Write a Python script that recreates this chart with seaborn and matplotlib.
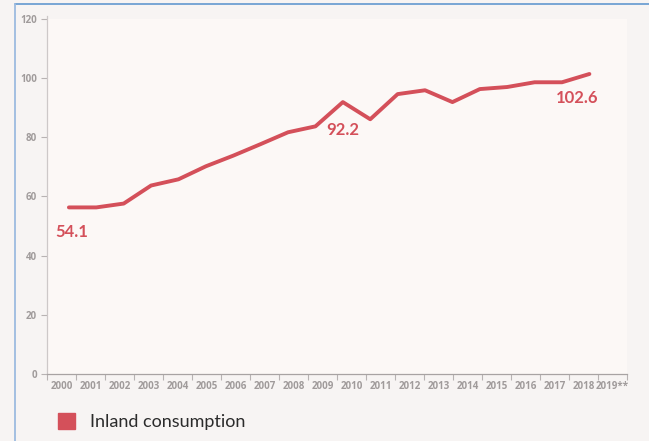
"""
Inland consumption 2000-2019 — line chart recreation
"""

import matplotlib
matplotlib.use("Agg")

import matplotlib.pyplot as plt
import numpy as np
import pandas as pd
import seaborn as sns
from matplotlib.lines import Line2D
from matplotlib.patches import Patch

# ----------------------------
# Data
# ----------------------------
years = ["2000", "2001", "2002", "2003", "2004", "2005", "2006", "2007",
         "2008", "2009", "2010", "2011", "2012", "2013", "2014", "2015",
         "2016", "2017", "2018", "2019**"]

consumption = [56.3, 56.3, 57.6, 63.7, 65.8, 70.2, 73.8, 77.7, 81.7, 83.7,
               91.9, 86.1, 94.6, 95.9, 91.9, 96.3, 97.0, 98.6, 98.6, 101.4]

# labelled points: (index into years, text shown)
label_idx = [0, 10, 19]
label_text = ["54.1", "92.2", "102.6"]

series_name = "Inland consumption"

RED = "#d4505a"
GREY = "#a09b9b"

df = pd.DataFrame({"idx": np.arange(len(years)), "value": consumption})

# ----------------------------
# Figure
# ----------------------------
sns.set_theme(style="white")
plt.rcParams["font.family"] = ["Lato", "DejaVu Sans"]

fig = plt.figure(figsize=(6.49, 4.41), dpi=100, facecolor="#f7f4f3")
ax = fig.add_axes([0.0724, 0.152, 0.8936, 0.805])
ax.set_facecolor("#fcf8f6")

sns.lineplot(data=df, x="idx", y="value", ax=ax, color=RED,
             linewidth=2.8, legend=False)

# the line does not sit on the category centres in the original
x0, x1 = -0.80, 20.37
ax.set_xlim(x0, x1)
ax.set_ylim(0, 120)

# ----------------------------
# Axes styling
# ----------------------------
edges = np.linspace(x0, x1, len(years) + 1)
centers = (edges[:-1] + edges[1:]) / 2

ax.set_xticks(edges)
ax.set_xticklabels([])
ax.set_xticks(centers, minor=True)
ax.set_xticklabels(years, minor=True, fontsize=7, color=GREY,
                   fontweight="bold", family=["Open Sans", "DejaVu Sans"])
ax.tick_params(axis="x", which="major", length=4, width=0.8,
               color="#b8b3b3", direction="out", bottom=True)
ax.tick_params(axis="x", which="minor", length=0, pad=5)

ax.set_yticks([0, 20, 40, 60, 80, 100, 120])
ax.set_yticklabels(["0", "20", "40", "60", "80", "100", "120"],
                   fontsize=7, color=GREY, fontweight="bold",
                   family=["Open Sans", "DejaVu Sans"])
ax.tick_params(axis="y", length=4, width=0.8, color="#b8b3b3",
               direction="out", left=True, pad=3)

for side in ["top", "right"]:
    ax.spines[side].set_visible(False)
ax.spines["left"].set_color("#cdc8c8")
ax.spines["left"].set_bounds(0, 121)
ax.spines["bottom"].set_color("#a8a3a3")
ax.spines["left"].set_linewidth(0.9)
ax.spines["bottom"].set_linewidth(0.9)

ax.set_xlabel("")
ax.set_ylabel("")

# ----------------------------
# Value labels
# ----------------------------
offsets = [(2, -18), (0, -20), (-9, -17)]
for i, txt, off in zip(label_idx, label_text, offsets):
    ax.annotate(txt, (i, consumption[i]), xytext=off,
                textcoords="offset points", ha="center", va="center",
                color=RED, fontsize=12, fontweight="bold")

# ----------------------------
# Legend + frame lines
# ----------------------------
fig.legend(handles=[Patch(facecolor=RED, edgecolor=RED)],
           labels=[series_name], loc="lower left",
           bbox_to_anchor=(0.064, -0.012), frameon=False,
           prop={"size": 13, "weight": "normal"},
           handlelength=0.95, handleheight=1.05, handletextpad=0.85,
           labelcolor="#2b2b2b")

fig.add_artist(Line2D([15 / 649, 1.0], [1 - 4 / 441, 1 - 4 / 441],
                      color="#6e9fd2", linewidth=1.3,
                      transform=fig.transFigure))
fig.add_artist(Line2D([15 / 649, 15 / 649], [0.0, 1 - 4 / 441],
                      color="#9dbbe0", linewidth=1.3,
                      transform=fig.transFigure))

fig.savefig("out.png", dpi=100, facecolor=fig.get_facecolor())
